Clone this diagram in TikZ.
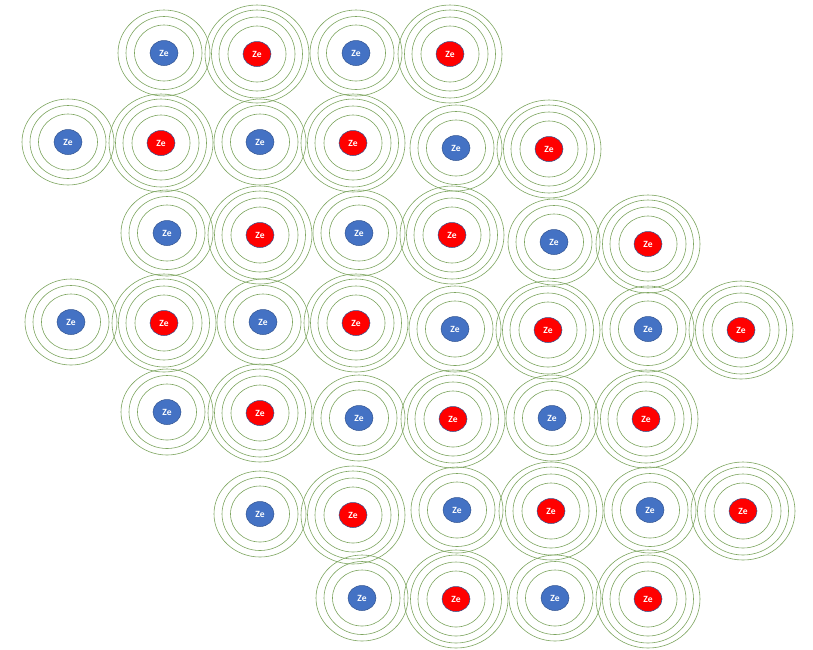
\documentclass[tikz,border=0pt]{standalone}
\usepackage{fontspec}
\setmainfont{Carlito}
\definecolor{nucblue}{RGB}{68,114,196}
\definecolor{nucred}{RGB}{255,0,0}
\definecolor{nucedge}{RGB}{47,82,143}
\definecolor{ringgreen}{RGB}{125,165,95}
\tikzset{
  nucleus/.style={ellipse, minimum width=28pt, minimum height=25pt, inner sep=0pt, draw=nucedge, line width=0.5pt, text=white, font=\bfseries\fontsize{9.5}{10}\selectfont},
  bluenuc/.style={nucleus, fill=nucblue},
  rednuc/.style={nucleus, fill=nucred},
  ring/.style={draw=ringgreen, line width=0.6pt}
}
\usetikzlibrary{shapes.geometric}
\begin{document}
\begin{tikzpicture}[x=1pt,y=-1pt]
\useasboundingbox (0,0) rectangle (813,649);
% blue atoms
\foreach \n/\x/\y in {b1/164/53, b2/356/53,
  b3/68/142, b4/260/142, b5/456/148,
  b6/167/233, b7/359/233, b8/554/242,
  b9/71/322, b10/263/322, b11/455/329, b12/648/329,
  b13/167/412, b14/359/418, b15/552/418,
  b16/260/514, b17/457/510, b18/650/510,
  b19/362/598, b20/555/598} {
  \node[bluenuc] (\n) at (\x,\y) {Ze};
  \draw[ring] (\n.center) ellipse [x radius=46, y radius=43];
  \draw[ring] (\n.center) ellipse [x radius=38, y radius=36.5];
  \draw[ring] (\n.center) ellipse [x radius=29.5, y radius=28];
}
% red atoms
\foreach \n/\x/\y in {r1/257/54, r2/450/54,
  r3/161/143, r4/353/143, r5/549/149,
  r6/260/235, r7/452/235, r8/648/244,
  r9/164/323, r10/356/323, r11/548/330, r12/741/330,
  r13/260/413, r14/453/419, r15/646/419,
  r16/353/515, r17/551/511, r18/743/511,
  r19/456/599, r20/648/599} {
  \node[rednuc] (\n) at (\x,\y) {Ze};
  \draw[ring] (\n.center) ellipse [x radius=52, y radius=49];
  \draw[ring] (\n.center) ellipse [x radius=45.5, y radius=44];
  \draw[ring] (\n.center) ellipse [x radius=38, y radius=37];
  \draw[ring] (\n.center) ellipse [x radius=29, y radius=28];
}
\end{tikzpicture}
\end{document}
